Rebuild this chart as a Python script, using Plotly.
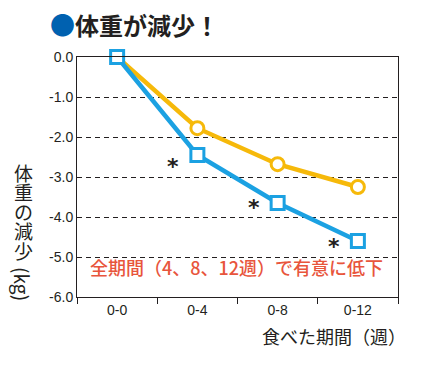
import plotly.graph_objects as go

categories = ["0-0", "0-4", "0-8", "0-12"]
blue_values = [0.0, -2.45, -3.65, -4.6]
yellow_values = [0.0, -1.78, -2.68, -3.25]
star_cats = ["0-4", "0-8", "0-12"]
star_values = [-2.68, -3.72, -4.68]
y_ticks = [0, -1, -2, -3, -4, -5, -6]
y_tick_labels = ["0.0", "-1.0", "-2.0", "-3.0", "-4.0", "-5.0", "-6.0"]
y_title_chars = ["体", "重", "の", "減", "少"]
y_title_unit = "(kg)"

FONT = "Noto Sans CJK JP"
LATIN = "Liberation Sans"
DARK = "#231f20"
BLUE = "#1ba1e2"
YELLOW = "#f6b90a"

fig = go.Figure()
fig.add_trace(go.Scatter(
    x=categories, y=yellow_values, mode="lines+markers",
    line=dict(color=YELLOW, width=4.5),
    marker=dict(symbol="circle", size=13, color="white", line=dict(color=YELLOW, width=3)),
    cliponaxis=False, showlegend=False))
fig.add_trace(go.Scatter(
    x=categories, y=blue_values, mode="lines+markers",
    line=dict(color=BLUE, width=4.5),
    marker=dict(symbol="square", size=13, color="white", line=dict(color=BLUE, width=3)),
    cliponaxis=False, showlegend=False))

for c, v in zip(star_cats, star_values):
    fig.add_annotation(x=c, y=v, text="<b>*</b>", showarrow=False, xshift=-24, yshift=-2,
                       font=dict(family="DejaVu Sans", size=22, color=DARK))

fig.add_annotation(xref="paper", yref="paper", x=0.498, y=0.0625,
                   text="全期間（4、8、12週）で有意に低下", showarrow=False,
                   font=dict(family=FONT, size=18, color="#e8553c", weight=500))

# title
fig.add_annotation(xref="paper", yref="paper", x=(48 - 77) / 321, y=1.0, yshift=33,
                   xanchor="left", yanchor="middle",
                   text="<span style='color:#0061b0;font-size:25px'>●</span><b>体重が減少！</b>",
                   showarrow=False, font=dict(family=FONT, size=24, color=DARK))

# y-axis title (vertical, one character per row)
x_title = (23 - 77) / 321
for i, ch in enumerate(y_title_chars):
    yc = 172 + 19.5 * i
    fig.add_annotation(xref="paper", yref="paper", x=x_title, y=(297 - yc) / 240,
                       xanchor="center", yanchor="middle", text=ch, showarrow=False,
                       font=dict(family=FONT, size=19, color=DARK))
fig.add_annotation(xref="paper", yref="paper", x=x_title, y=(297 - 284) / 240,
                   xanchor="center", yanchor="middle", text=y_title_unit, textangle=90,
                   showarrow=False, font=dict(family=FONT, size=19, color=DARK))

# x-axis title
fig.add_annotation(xref="paper", yref="paper", x=1.0, y=0, yshift=-24, xshift=10,
                   xanchor="right", yanchor="top",
                   text="食べた期間（週）", showarrow=False,
                   font=dict(family=FONT, size=18, color=DARK))

fig.update_xaxes(type="category", categoryorder="array", categoryarray=categories,
                 range=[-0.5, 3.5],
                 showline=True, mirror=True, linecolor=DARK, linewidth=1,
                 ticks="outside", tickson="boundaries", ticklen=6, tickcolor=DARK,
                 showgrid=False, tickfont=dict(family=LATIN, size=14, color=DARK))
fig.update_yaxes(range=[-6, 0], tickvals=y_ticks, ticktext=y_tick_labels,
                 showline=True, mirror=True, linecolor=DARK, linewidth=1,
                 showgrid=True, gridcolor=DARK, gridwidth=1, griddash="5px,4px",
                 zeroline=False, ticks="", tickfont=dict(family=LATIN, size=14, color=DARK))

fig.update_layout(width=444, height=366, margin=dict(l=77, r=46, t=57, b=69),
                  plot_bgcolor="white", paper_bgcolor="white")
fig.write_html("out.html", config={"displayModeBar": False},
               post_script="document.body.style.margin='0px';")
